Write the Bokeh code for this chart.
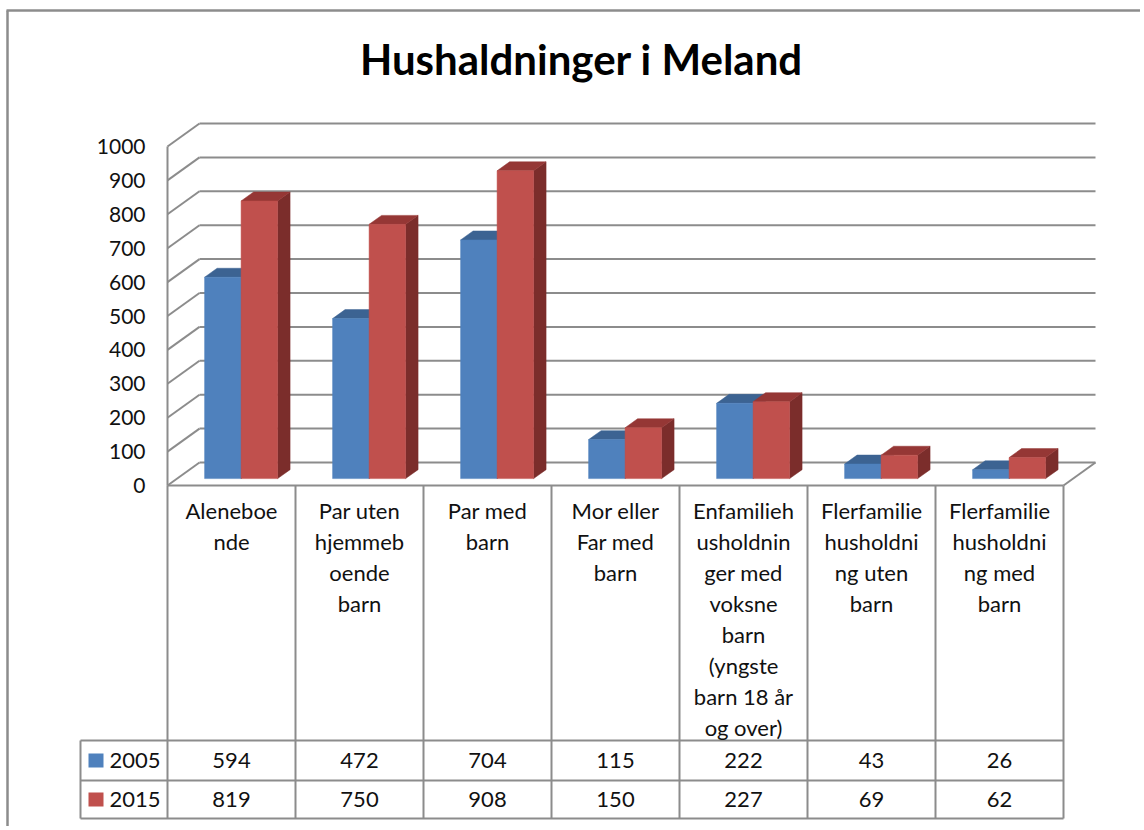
from bokeh.plotting import figure
from bokeh.models import Range1d, ColumnDataSource
from bokeh.embed import file_html
from bokeh.resources import INLINE
from bokeh.core.properties import value

# ---------------- data ----------------
title = "Hushaldninger i Meland"
categories = [
    "Aleneboende",
    "Par uten hjemmeboende barn",
    "Par med barn",
    "Mor eller Far med barn",
    "Enfamiliehusholdninger med voksne barn (yngste barn 18 år og over)",
    "Flerfamiliehusholdning uten barn",
    "Flerfamiliehusholdning med barn",
]
category_lines = [
    ["Aleneboe", "nde"],
    ["Par uten", "hjemmeb", "oende", "barn"],
    ["Par med", "barn"],
    ["Mor eller", "Far med", "barn"],
    ["Enfamilieh", "usholdnin", "ger med", "voksne", "barn", "(yngste", "barn 18 år", "og over)"],
    ["Flerfamilie", "husholdni", "ng uten", "barn"],
    ["Flerfamilie", "husholdni", "ng med", "barn"],
]
series_names = ["2005", "2015"]
values_2005 = [594, 472, 704, 115, 222, 43, 26]
values_2015 = [819, 750, 908, 150, 227, 69, 62]
y_ticks = [0, 100, 200, 300, 400, 500, 600, 700, 800, 900, 1000]

# ---------------- layout / style ----------------
W, H = 1140, 826
OX, OY = 0, 0            # figure origin on the screenshot
X0 = 167                 # screen x of category start (front plane)
COL = 128                # px per category
Y0 = 485                 # screen y of value 0 on front plane
PPU = 0.339              # px per value unit
DEPTH_X, DEPTH_Y = 32, 23
F0, F1 = 0.30, 0.69      # bar depth (fraction of floor depth)
BAR_W = 36.5 / COL
FONT = value("Lato")
GRID = "#8c8c8c"
TXT = "#111111"
LBL_SIZE = "22px"

front_cols = ["#4F81BD", "#C0504D"]
top_cols = ["#3C6392", "#953735"]
side_cols = ["#385D8A", "#7B2D2B"]

p = figure(
    width=W, height=H, output_backend="svg", toolbar_location=None,
    x_range=Range1d((OX - X0) / COL, (OX + W - X0) / COL),
    y_range=Range1d((Y0 - (OY + H)) / PPU, (Y0 - OY) / PPU),
    min_border=0, outline_line_color=None,
    background_fill_color="white", border_fill_color="white",
)
p.extra_x_ranges = {"px": Range1d(OX, OX + W)}
p.extra_y_ranges = {"py": Range1d(OY + H, OY)}
p.axis.visible = False
p.xgrid.visible = False
p.ygrid.visible = False

ncat = len(categories)
DXu = DEPTH_X / COL
DYu = DEPTH_Y / PPU

# outer chart border (top and left visible)
p.multi_line(xs=[[6, OX + W], [7, 7]], ys=[[10, 10], [10, OY + H]],
             x_range_name="px", y_range_name="py", line_color=GRID, line_width=2.5)

# back-wall gridlines and left-wall diagonals
gx, gy = [], []
for v in y_ticks:
    gx.append([DXu, ncat + DXu]); gy.append([v + DYu, v + DYu])
    gx.append([0, DXu]); gy.append([v, v + DYu])
# floor front edge, floor right edge, left front vertical edge
gx.append([0, ncat]); gy.append([0, 0])
gx.append([ncat, ncat + DXu]); gy.append([0, DYu])
gx.append([0, 0]); gy.append([0, y_ticks[-1]])
p.multi_line(xs=gx, ys=gy, line_color=GRID, line_width=2)

# 3D bars
bxs, bys, bcol = [], [], []
ddx, ddy = (F1 - F0) * DXu, (F1 - F0) * DYu
yb = F0 * DYu
for i in range(ncat):
    for s, vals in enumerate([values_2005, values_2015]):
        v = vals[i]
        xl = i + 0.5 - BAR_W + s * BAR_W + F0 * DXu
        xr = xl + BAR_W
        bxs.append([xr, xr + ddx, xr + ddx, xr]); bys.append([yb, yb + ddy, yb + v + ddy, yb + v]); bcol.append(side_cols[s])
        bxs.append([xl, xr, xr + ddx, xl + ddx]); bys.append([yb + v, yb + v, yb + v + ddy, yb + v + ddy]); bcol.append(top_cols[s])
        bxs.append([xl, xr, xr, xl]); bys.append([yb, yb, yb + v, yb + v]); bcol.append(front_cols[s])
p.patches(xs="xs", ys="ys", fill_color="c", line_color="c", line_width=0.5,
          source=ColumnDataSource(dict(xs=bxs, ys=bys, c=bcol)))

# y tick labels
p.text(x=[(145 - X0) / COL] * len(y_ticks), y=y_ticks, text=[str(t) for t in y_ticks],
       text_align="right", text_baseline="middle", text_font=FONT,
       text_font_size="21px", text_color=TXT)

# data table lines
ROW_TOP, ROW_MID, ROW_BOT = 740, 780, 818
LEG_L = 80
tx, ty = [], []
for k in range(ncat + 1):
    xx = X0 + k * COL
    tx.append([xx, xx]); ty.append([Y0, ROW_BOT])
for yy in (ROW_TOP, ROW_MID, ROW_BOT):
    tx.append([LEG_L, X0 + ncat * COL]); ty.append([yy, yy])
tx.append([LEG_L, LEG_L]); ty.append([ROW_TOP, ROW_BOT])
p.multi_line(xs=tx, ys=ty, x_range_name="px", y_range_name="py", line_color=GRID, line_width=2)

# category labels
cx, cy, ct = [], [], []
for i, lines in enumerate(category_lines):
    for j, t in enumerate(lines):
        cx.append(i + 0.5); cy.append(510 + 31 * j); ct.append(t)
p.text(x=cx, y=cy, text=ct, y_range_name="py", text_align="center", text_baseline="middle",
       text_font=FONT, text_font_size=LBL_SIZE, text_color=TXT)

# table values
vx, vy, vt = [], [], []
row_centers = [(ROW_TOP + ROW_MID) / 2, (ROW_MID + ROW_BOT) / 2]
for s, vals in enumerate([values_2005, values_2015]):
    for i, v in enumerate(vals):
        vx.append(i + 0.5); vy.append(row_centers[s]); vt.append(str(v))
p.text(x=vx, y=vy, text=vt, y_range_name="py", text_align="center", text_baseline="middle",
       text_font=FONT, text_font_size=LBL_SIZE, text_color=TXT)

# legend keys in table
p.quad(left=[88, 88], right=[103, 103],
       top=[row_centers[0] - 7, row_centers[1] - 7], bottom=[row_centers[0] + 7, row_centers[1] + 7],
       fill_color=front_cols, line_color=None, x_range_name="px", y_range_name="py")
p.text(x=[109, 109], y=row_centers, text=series_names, x_range_name="px", y_range_name="py",
       text_align="left", text_baseline="middle", text_font=FONT, text_font_size=LBL_SIZE, text_color=TXT)

# title
p.text(x=[581], y=[58], text=[title], x_range_name="px", y_range_name="py",
       text_align="center", text_baseline="middle", text_font=FONT,
       text_font_size="42px", text_font_style="bold", text_color="#000000")

open("out.html", "w").write(file_html(p, INLINE))
